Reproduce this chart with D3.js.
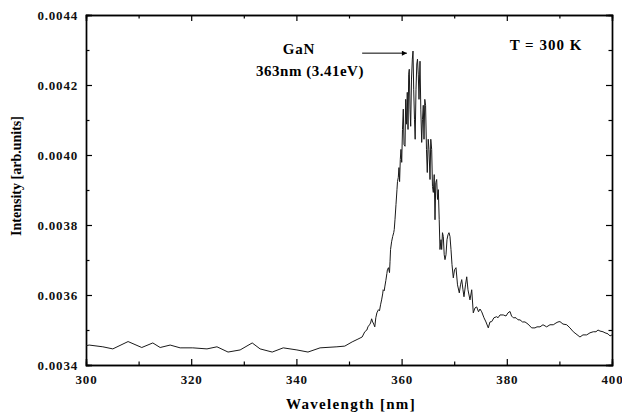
<!DOCTYPE html>
<html><head><meta charset="utf-8">
<script src="https://cdn.jsdelivr.net/npm/d3@7"></script>
<style>body{margin:0;background:#fff}svg{display:block}</style>
</head><body>
<svg id="c" width="622" height="419"></svg>
<script>
const wavelength = [
300.0,300.6,303.2,305.1,308.0,310.6,312.7,314.1,316.0,317.9,320.3,323.0,324.9,327.0,329.3,331.6,333.1,335.4,337.5,340.1,342.2,344.5,347.7,349.2,350.6,351.7,352.1,352.5,353.0,353.4,353.6,353.9,354.1,354.3,354.5,354.7,354.9,355.1,355.3,355.6,355.8,356.0,356.2,356.4,356.5,356.7,356.8,357.0,357.2,357.3,357.5,357.7,357.8,357.9,358.1,358.3,358.5,358.6,
358.74,358.93,359.12,359.22,359.37,359.50,359.62,359.75,359.88,360.02,360.17,360.32,360.46,360.65,360.78,360.93,361.08,361.22,361.35,361.46,361.60,361.73,361.88,362.04,362.17,362.30,362.45,362.58,362.74,362.89,363.02,363.17,363.31,363.50,363.65,363.82,363.97,364.12,364.26,364.41,364.56,364.73,364.88,365.06,365.21,365.40,365.55,365.72,365.87,366.03,366.20,366.35,366.50,366.67,366.83,366.98,367.15,367.30,367.49,367.62,367.77,367.93,368.10,368.25,368.44,368.63,368.82,369.01,369.20,369.39,369.58,369.83,370.06,370.34,370.63,370.97,371.20,371.43,371.67,371.86,372.15,372.38,372.62,373.00,373.33,373.63,373.95,374.28,374.62,374.90,375.23,375.66,376.04,376.48,376.80,377.13,377.56,378.08,378.33,378.71,379.33,379.85,380.23,380.61,380.90,381.23,381.75,382.13,382.51,382.98,383.46,384.03,384.73,385.36,385.74,386.31,386.88,387.58,388.21,388.84,389.35,389.73,390.11,390.68,391.39,392.01,392.64,393.15,393.91,394.48,395.19,395.82,396.44,396.96,397.34,397.72,398.29,398.67,399.24,399.62,400.00
];
const intensity = [
0.003455,0.003457,0.003452,0.003446,0.003467,0.003450,0.003463,0.003450,0.003457,0.003449,0.003449,0.003446,0.003452,0.003437,0.003443,0.003463,0.003446,0.003437,0.003449,0.003443,0.003437,0.003449,0.003452,0.003454,0.003466,0.003474,0.003477,0.003480,0.003495,0.003500,0.003509,0.003515,0.003520,0.003532,0.003523,0.003517,0.003509,0.003535,0.003549,0.003558,0.003555,0.003572,0.003586,0.003603,0.003615,0.003612,0.003623,0.003641,0.003661,0.003672,0.003678,0.003664,0.003695,0.003730,0.003752,0.003767,0.003778,0.003787,
0.003815,0.003858,0.003901,0.003924,0.003936,0.003964,0.003924,0.003987,0.004016,0.003979,0.004073,0.004131,0.004030,0.004025,0.004159,0.004088,0.004179,0.004073,0.004231,0.004245,0.004131,0.004082,0.004217,0.004274,0.004297,0.004188,0.004102,0.004045,0.004188,0.004260,0.004274,0.004231,0.004159,0.004268,0.004131,0.004036,0.004102,0.004142,0.004045,0.004159,0.004142,0.004016,0.003950,0.004045,0.004016,0.003930,0.004045,0.004016,0.003910,0.003893,0.003944,0.003815,0.003921,0.003930,0.003873,0.003901,0.003815,0.003730,0.003758,0.003730,0.003778,0.003767,0.003715,0.003701,0.003715,0.003758,0.003772,0.003778,0.003767,0.003730,0.003687,0.003649,0.003672,0.003678,0.003629,0.003606,0.003629,0.003644,0.003615,0.003595,0.003629,0.003652,0.003615,0.003586,0.003615,0.003549,0.003563,0.003566,0.003552,0.003560,0.003552,0.003535,0.003523,0.003506,0.003523,0.003524,0.003535,0.003538,0.003535,0.003543,0.003543,0.003540,0.003549,0.003553,0.003540,0.003535,0.003535,0.003529,0.003529,0.003523,0.003523,0.003517,0.003506,0.003506,0.003509,0.003509,0.003515,0.003509,0.003515,0.003515,0.003520,0.003523,0.003524,0.003517,0.003515,0.003506,0.003495,0.003489,0.003480,0.003486,0.003486,0.003492,0.003495,0.003495,0.003500,0.003497,0.003495,0.003492,0.003489,0.003483,0.003486
];
const xTicks = [300,320,340,360,380,400];
const xMinor = [310,330,350,370,390];
const yTicks = [0.0034,0.0036,0.0038,0.0040,0.0042,0.0044];
const yMinor = [0.0035,0.0037,0.0039,0.0041,0.0043];
const xTitle = "Wavelength [nm]";
const yTitle = "Intensity [arb.units]";

const L=86,R=612,T=15,B=365;
const svg=d3.select("#c");
const x=d3.scaleLinear().domain([300,400]).range([L,R]);
const y=d3.scaleLinear().domain([0.0034,0.0044]).range([B,T]);
const font="'Liberation Serif','Times New Roman',serif";

function styleAxis(g){
  g.selectAll("path.domain").attr("stroke","#000").attr("stroke-width",1.4);
  g.selectAll(".tick line").attr("stroke","#000").attr("stroke-width",1.2);
  g.selectAll(".tick text").attr("font-family",font).attr("font-weight","bold").attr("font-size",13)
    .attr("letter-spacing",0.8).attr("fill","#111");
}
// bottom
svg.append("g").attr("transform",`translate(0,${B})`)
  .call(d3.axisBottom(x).tickValues(xTicks).tickSize(-6).tickPadding(10).tickFormat(d3.format("d"))).call(styleAxis);
svg.append("g").attr("transform",`translate(0,${B})`)
  .call(d3.axisBottom(x).tickValues(xMinor).tickSize(-3.5).tickFormat("")).call(styleAxis);
// top
svg.append("g").attr("transform",`translate(0,${T})`)
  .call(d3.axisTop(x).tickValues(xTicks).tickSize(-6).tickFormat("")).call(styleAxis);
svg.append("g").attr("transform",`translate(0,${T})`)
  .call(d3.axisTop(x).tickValues(xMinor).tickSize(-3.5).tickFormat("")).call(styleAxis);
// left
svg.append("g").attr("transform",`translate(${L},0)`)
  .call(d3.axisLeft(y).tickValues(yTicks).tickSize(-6).tickPadding(8).tickFormat(d3.format(".4f"))).call(styleAxis);
svg.append("g").attr("transform",`translate(${L},0)`)
  .call(d3.axisLeft(y).tickValues(yMinor).tickSize(-3.5).tickFormat("")).call(styleAxis);
// right
svg.append("g").attr("transform",`translate(${R},0)`)
  .call(d3.axisRight(y).tickValues(yTicks).tickSize(-6).tickFormat("")).call(styleAxis);
svg.append("g").attr("transform",`translate(${R},0)`)
  .call(d3.axisRight(y).tickValues(yMinor).tickSize(-3.5).tickFormat("")).call(styleAxis);

// data line
const pts=wavelength.map((w,i)=>[w,intensity[i]]);
svg.append("path").datum(pts)
  .attr("fill","none").attr("stroke","#1a1a1a").attr("stroke-width",1).attr("stroke-linejoin","round")
  .attr("d",d3.line().x(d=>x(d[0])).y(d=>y(d[1])));

// titles
svg.append("text").attr("x",(L+R)/2+2).attr("y",409).attr("text-anchor","middle")
  .attr("font-family",font).attr("font-weight","bold").attr("font-size",15).attr("letter-spacing",1.3)
  .text(xTitle);
svg.append("text").attr("transform",`translate(21,${(T+B)/2-14}) rotate(-90)`).attr("text-anchor","middle")
  .attr("font-family",font).attr("font-weight","bold").attr("font-size",14)
  .text(yTitle);

// annotations
svg.append("text").attr("x",299).attr("y",54).attr("text-anchor","middle")
  .attr("font-family",font).attr("font-weight","bold").attr("font-size",15).attr("letter-spacing",0.8).text("GaN");
svg.append("text").attr("x",310).attr("y",76).attr("text-anchor","middle")
  .attr("font-family",font).attr("font-weight","bold").attr("font-size",15).attr("letter-spacing",0.5).text("363nm (3.41eV)");
svg.append("text").attr("x",546).attr("y",50).attr("text-anchor","middle")
  .attr("font-family",font).attr("font-weight","bold").attr("font-size",15).attr("letter-spacing",1).text("T = 300 K");

// arrow
svg.append("defs").append("marker").attr("id","ah").attr("viewBox","0 0 10 10")
  .attr("refX",10).attr("refY",5).attr("markerWidth",7).attr("markerHeight",5).attr("orient","auto")
  .append("path").attr("d","M0,0L10,5L0,10z").attr("fill","#000");
svg.append("line").attr("x1",x(352.5)).attr("x2",x(361.0)).attr("y1",y(0.004291)).attr("y2",y(0.004291))
  .attr("stroke","#000").attr("stroke-width",1).attr("marker-end","url(#ah)");
</script>
</body></html>
